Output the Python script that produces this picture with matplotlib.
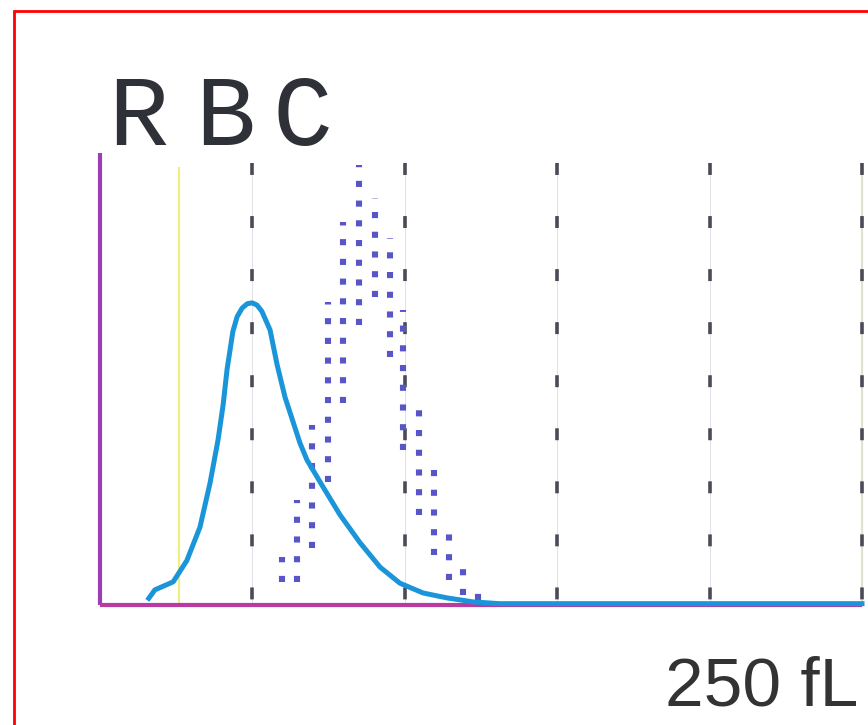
import matplotlib.pyplot as plt
from matplotlib.patches import Rectangle

plt.rcParams['lines.scale_dashes'] = False

# RBC volume histogram (fL vs relative count)
rbc_fl = [16, 18, 24, 28.5, 32.8, 36.1, 38.7, 40.4, 41.7, 43.6, 45.0, 46.6, 48.3, 49.9, 51.5,
          53.1, 55.8, 58.1, 60.7, 65.6, 67.9, 73.2, 78.7, 85.3, 91.9, 98.4, 106, 113.8, 122.4,
          131, 250]
rbc_h = [1.5, 3.4, 5.2, 10, 17.5, 27.4, 37, 45, 53, 61.5, 64.8, 66.7, 67.7, 67.9, 67.4,
         66.0, 61.8, 54, 46.7, 36.4, 32.6, 26.5, 20.3, 14, 8.5, 4.9, 2.7, 1.6, 0.7,
         0.3, 0.3]

# dotted reference band (columns of dots)
ref_fl = [59.7, 64.6, 69.6, 74.8, 79.7, 85.0, 90.2, 95.1, 99.4, 104.7, 109.6, 114.5, 119.1, 124.0]
ref_top = [10.8, 23.6, 40.4, 68.1, 86.1, 98.9, 91.5, 82.5, 66.3, 46.7, 33.3, 18.7, 10.8, 4.9]
ref_bot = [5.2, 5.2, 12.8, 27.6, 45.4, 62.9, 69.2, 55.7, 34.8, 20.2, 11.2, 5.6, 2.2, 1.1]

grid_fl = [50, 100, 150, 200, 250]
disc_fl = [26, 250]

fig = plt.figure(figsize=(8.68, 7.25), dpi=100)
ax = fig.add_axes([100 / 868, 120 / 725, 762 / 868, 445 / 725])
ax.set_xlim(0, 250)
ax.set_ylim(0, 100)
ax.axis('off')

# discriminator lines
ax.vlines(disc_fl, 0, 98.5, colors='#f0ee80', lw=1.6, zorder=1, clip_on=False)

# grid lines
ax.vlines(grid_fl, 0, 99.3, colors='#dcdce4', lw=0.6, zorder=1, clip_on=False)
ax.vlines(grid_fl, 99.3, 0, colors='#4a4a58', lw=2.6, zorder=2, clip_on=False,
          linestyles=[(0, (8.6, 29.6))])

# dotted band
ax.vlines(ref_fl, ref_bot, ref_top, colors='#5656c8', lw=4.4, zorder=3, clip_on=False,
          linestyles=[(0, (4.4, 9.8))])

# axes
ax.plot([0, 0], [0, 101.5], color='#9c3fb4', lw=3, zorder=4, clip_on=False, solid_capstyle='butt')
ax.plot([0, 250], [0, 0], color='#b83aa2', lw=3, zorder=4, clip_on=False, solid_capstyle='butt')

# histogram curve
ax.plot(rbc_fl, rbc_h, color='#1b95d9', lw=3.6, zorder=5, clip_on=False, solid_joinstyle='round')

# labels
for ch, xp in zip(['R', 'B', 'C'], [138, 225, 302]):
    fig.text(xp / 868, 1 - 145 / 725, ch, fontsize=72, family='Liberation Mono',
             color='#2e3238', ha='center', va='baseline')
fig.text(858 / 868, 20 / 725, '250 fL', fontsize=50, family='Liberation Sans',
         color='#333333', ha='right', va='baseline')

# red frame
fig.add_artist(Rectangle((14 / 868, -0.1), 1.2, 1.1 - 11 / 725, transform=fig.transFigure,
                         fill=False, ec='#ff0000', lw=2))

fig.savefig('out.png', dpi=100)
